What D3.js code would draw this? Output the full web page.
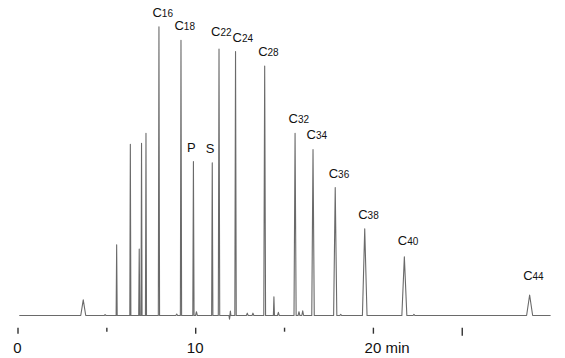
<!DOCTYPE html>
<html>
<head>
<meta charset="utf-8">
<script src="https://cdn.jsdelivr.net/npm/d3@7/dist/d3.min.js"></script>
<style>
  html, body { margin: 0; padding: 0; background: #fff; }
  svg { display: block; font-family: "Liberation Sans", Arial, sans-serif; }
</style>
</head>
<body>
<script>
// ---------------- DATA ----------------
// Retention time (min), relative height (C16 = 100), half-width (min)
const peakTimes   = [3.70, 5.58, 6.35, 6.85, 6.98, 7.23, 7.96, 9.20, 9.90, 10.96, 11.34, 12.27, 13.91, 14.43, 15.62, 16.63, 17.88, 19.54, 21.77, 28.82];
const peakHeights = [5.4, 24.5, 59.3, 23.0, 59.6, 63.1, 100, 95.3, 53.3, 52.9, 92.3, 91.4, 86.4, 6.5, 63.1, 57.5, 44.3, 30.0, 20.3, 7.1];
const peakWidths  = [0.14, 0.03, 0.03, 0.03, 0.03, 0.03, 0.035, 0.035, 0.035, 0.035, 0.04, 0.04, 0.05, 0.03, 0.06, 0.07, 0.09, 0.13, 0.14, 0.17];
const peakLabels  = ["", "", "", "", "", "", "C16", "C18", "P", "S", "C22", "C24", "C28", "", "C32", "C34", "C36", "C38", "C40", "C44"];

// small baseline features
const minorTimes   = [4.93, 8.96, 10.07, 11.93, 11.98, 12.93, 13.25, 14.68, 15.84, 16.05, 18.19, 22.31];
const minorHeights = [0.3, 0.5, 1.3, -1.3, 1.5, 0.8, 0.8, 1.1, 1.3, 1.6, 0.4, 0.4];
const minorWidths  = [0.05, 0.05, 0.05, 0.03, 0.03, 0.05, 0.05, 0.05, 0.05, 0.05, 0.05, 0.05];

const runStart = 0.1, runEnd = 30;
const tickValues = [0, 5, 10, 15, 20, 25];
const tickLabels = ["0", "", "10", "", "20", ""];
const unitLabel = " min";

// ---------------- LAYOUT / STYLE ----------------
const W = 565, H = 358;
const x = d3.scaleLinear().domain([0, 30]).range([17.5, 17.5 + 30 * 17.77]);
const y = d3.scaleLinear().domain([0, 100]).range([315.5, 26.7]);
const tickLen = {0: 6, 5: 4, 10: 6, 15: 4, 20: 6, 25: 8};
const labelNudge = {C22: [-1.5, -3], C24: [3.5, 0], C40: [0, -2], C44: [0, -5]};

const svg = d3.select("body").append("svg").attr("width", W).attr("height", H);

// build trace
const peaks = peakTimes.map((t, i) => ({t, h: peakHeights[i], w: peakWidths[i], label: peakLabels[i]}))
  .concat(minorTimes.map((t, i) => ({t, h: minorHeights[i], w: minorWidths[i], label: ""})))
  .sort((a, b) => a.t - b.t);

const pts = [[runStart, 0]];
peaks.forEach(p => { pts.push([p.t - p.w, 0], [p.t, p.h], [p.t + p.w, 0]); });
pts.push([runEnd, 0]);

const line = d3.line().x(d => x(d[0])).y(d => y(d[1]));
svg.append("path")
  .datum(pts)
  .attr("d", line)
  .attr("fill", "none")
  .attr("stroke", "#6a6a6a")
  .attr("stroke-width", 1.1)
  .attr("stroke-linejoin", "round");

// peak labels
const lab = svg.append("g").attr("fill", "#111");
peaks.filter(p => p.label).forEach(p => {
  const n = labelNudge[p.label] || [0, 0];
  const txt = lab.append("text")
    .attr("x", x(p.t) - 6.5 + n[0])
    .attr("y", y(p.h) - 10 + n[1]);
  const m = p.label.match(/^([A-Z])(\d*)$/);
  txt.append("tspan").attr("font-size", 13).text(m[1]);
  if (m[2]) txt.append("tspan").attr("font-size", 10).text(m[2]);
});

// axis
const axisY = 327.7;
const axis = d3.axisBottom(x).tickValues(tickValues).tickFormat(() => "").tickSizeOuter(0);
const ag = svg.append("g").attr("transform", `translate(0,${axisY})`).call(axis);
ag.select(".domain").remove();
ag.selectAll(".tick line")
  .attr("y2", d => tickLen[d])
  .attr("stroke", "#333")
  .attr("stroke-width", 1.4);
ag.selectAll(".tick text").remove();

const tl = svg.append("g").attr("fill", "#111").attr("font-size", 15);
tickValues.forEach((v, i) => {
  if (!tickLabels[i]) return;
  const t = tl.append("text").attr("y", 352.5).text(tickLabels[i]);
  const wNum = t.node().getComputedTextLength();
  t.attr("x", x(v) - wNum / 2);
  if (tickLabels[i] === "20") t.text(tickLabels[i] + unitLabel);
});
</script>
</body>
</html>
